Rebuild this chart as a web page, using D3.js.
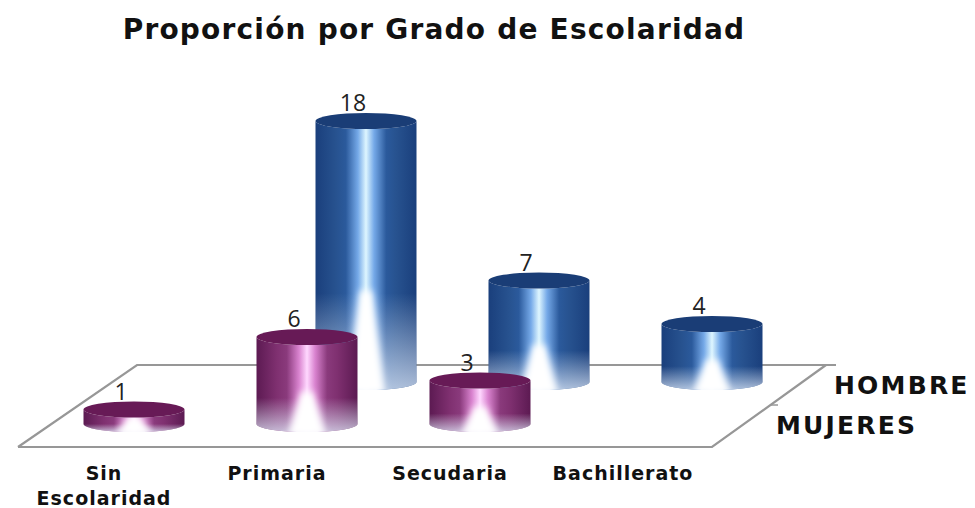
<!DOCTYPE html>
<html>
<head>
<meta charset="utf-8">
<script src="https://cdn.jsdelivr.net/npm/d3@7"></script>
<style>
  html, body { margin: 0; padding: 0; background: #fff; }
  svg { display: block; }
  .title, .cat, .serie { font-family: "DejaVu Sans", sans-serif; font-weight: 700; fill: #111; }
  .val { font-family: "Open Sans", "Liberation Sans", sans-serif; fill: #222; font-size: 23px; }
</style>
</head>
<body>
<div id="chart"></div>
<script>
const categories = ["Sin Escolaridad", "Primaria", "Secudaria", "Bachillerato"];
const series = ["MUJERES", "HOMBRE"];
const mujeres = [1, 6, 3, 0];
const hombre = [0, 18, 7, 4];

const width = 975, height = 508;
const rx = 50.5, ry = 8;

const svg = d3.select("#chart").append("svg")
    .attr("width", width)
    .attr("height", height);

const defs = svg.append("defs");

// x = front row position, depth moves the back row right and up
const x = d3.scalePoint().domain(categories).range([134, 653]);
const depthX = d3.scalePoint().domain(series).range([0, 59]);
const baseY = d3.scalePoint().domain(series).range([424, 382]);
const h = d3.scaleLinear().domain([0, 18]).range([0, 261]);

const colors = {
    MUJERES: { top: "#671a56", stops: ["#5c1a52", "#7f3070", "#8a3a7c", "#d983cf", "#ffd8ff", "#d983cf", "#8a3a7c", "#7f3070", "#5c1a52"] },
    HOMBRE: { top: "#1a3d76", stops: ["#1a3f7c", "#27528f", "#2b5a9c", "#75a9e8", "#def6ff", "#75a9e8", "#2b5a9c", "#27528f", "#1a3f7c"] }
};
const stopAt = [0, 0.2, 0.3, 0.42, 0.5, 0.58, 0.7, 0.8, 1];

series.forEach(s => {
    const g = defs.append("linearGradient").attr("id", "body-" + s);
    colors[s].stops.forEach((c, i) => {
        g.append("stop").attr("offset", stopAt[i]).attr("stop-color", c);
    });
});

const fade = defs.append("linearGradient").attr("id", "fade")
    .attr("x1", 0).attr("x2", 0).attr("y1", 0).attr("y2", 1);
fade.append("stop").attr("offset", 0.64).attr("stop-color", "#dfe9f8").attr("stop-opacity", 0);
fade.append("stop").attr("offset", 1).attr("stop-color", "#dfe9f8").attr("stop-opacity", 0.75);

defs.append("filter").attr("id", "soft")
    .attr("x", "-50%").attr("y", "-20%").attr("width", "200%").attr("height", "140%")
    .append("feGaussianBlur").attr("stdDeviation", 3.5);

// floor
const floorBack = 365, floorFront = 447;
svg.append("path")
    .attr("d", `M18,${floorFront} L137,${floorBack} L836,${floorBack} M826,${floorBack} L712,${floorFront} L18,${floorFront}`)
    .attr("fill", "none")
    .attr("stroke", "#979797")
    .attr("stroke-width", 2.2);
svg.append("path")
    .attr("d", "M770,405 L778,405")
    .attr("stroke", "#979797")
    .attr("stroke-width", 1.5);

const rows = [
    { name: "HOMBRE", values: hombre },
    { name: "MUJERES", values: mujeres }
];

function bodyPath(d) {
    return `M${d.cx - rx},${d.yTop} L${d.cx - rx},${d.yBot} A${rx},${ry} 0 0 0 ${d.cx + rx},${d.yBot} L${d.cx + rx},${d.yTop} A${rx},${ry} 0 0 1 ${d.cx - rx},${d.yTop} Z`;
}

// back row first so the front row covers it
rows.forEach(row => {
    const data = row.values.map((v, i) => ({
        v: v,
        id: row.name + i,
        cx: x(categories[i]) + depthX(row.name),
        yBot: baseY(row.name),
        yTop: baseY(row.name) - h(v)
    })).filter(d => d.v > 0);

    const cyl = svg.selectAll(".cyl-" + row.name)
        .data(data)
        .enter()
        .append("g")
        .attr("class", "cyl-" + row.name);

    defs.selectAll(".clip-" + row.name)
        .data(data)
        .enter()
        .append("clipPath")
        .attr("class", "clip-" + row.name)
        .attr("id", d => "clip-" + d.id)
        .append("path")
        .attr("d", bodyPath);

    cyl.append("path")
        .attr("d", bodyPath)
        .attr("fill", `url(#body-${row.name})`);

    cyl.append("path")
        .attr("d", bodyPath)
        .attr("fill", "url(#fade)");

    // white wedge of the reflection at the foot
    cyl.append("g")
        .attr("clip-path", d => `url(#clip-${d.id})`)
        .append("path")
        .attr("d", d => {
            const top = d.yBot - (d.yBot + ry - d.yTop) * 0.34;
            return `M${d.cx - 6},${top} L${d.cx + 6},${top} L${d.cx + 19},${d.yBot + ry + 4} L${d.cx - 19},${d.yBot + ry + 4} Z`;
        })
        .attr("fill", "#fff")
        .attr("filter", "url(#soft)");

    cyl.append("ellipse")
        .attr("cx", d => d.cx)
        .attr("cy", d => d.yTop)
        .attr("rx", rx)
        .attr("ry", ry)
        .attr("fill", colors[row.name].top);

    svg.selectAll(".val-" + row.name)
        .data(data)
        .enter()
        .append("text")
        .attr("class", "val val-" + row.name)
        .attr("x", d => d.cx - 13)
        .attr("y", d => d.yTop - 10)
        .attr("text-anchor", "middle")
        .text(d => d.v);
});

svg.append("text")
    .attr("class", "title")
    .attr("x", 434)
    .attr("y", 39)
    .attr("text-anchor", "middle")
    .style("font-size", "28px")
    .style("letter-spacing", "1.2px")
    .text("Proporción por Grado de Escolaridad");

// category labels, the first one wraps
categories.forEach(c => {
    const t = svg.append("text")
        .attr("class", "cat")
        .attr("text-anchor", "middle")
        .style("font-size", "19px")
        .style("letter-spacing", "1px");
    const cx = x(c) - 30;
    c.split(" ").forEach((w, i) => {
        t.append("tspan").attr("x", cx).attr("y", 480 + i * 25).text(w);
    });
});

svg.selectAll(".serie")
    .data(series)
    .enter()
    .append("text")
    .attr("class", "serie")
    .attr("x", d => d == "HOMBRE" ? 834 : 776)
    .attr("y", d => d == "HOMBRE" ? 394 : 434)
    .style("font-size", "25px")
    .style("letter-spacing", "2.2px")
    .text(d => d);
</script>
</body>
</html>
